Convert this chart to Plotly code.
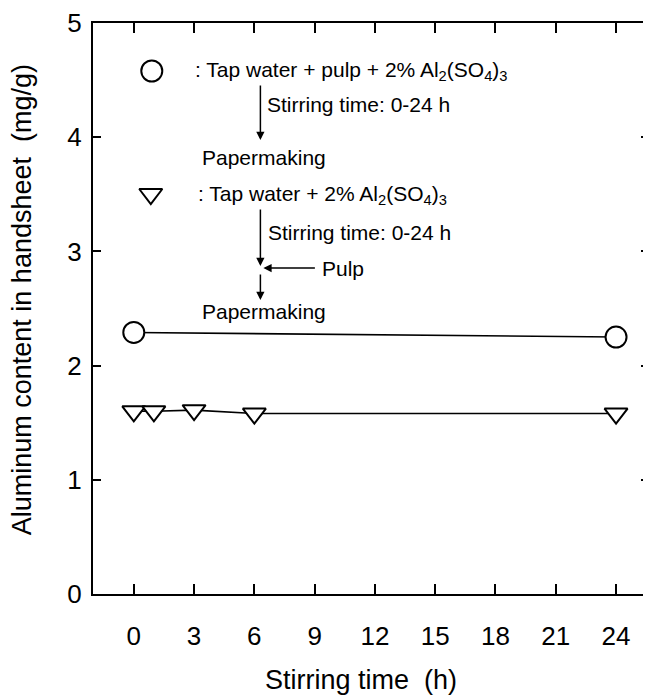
import plotly.graph_objects as go

# ---- data ----
circle_time = [0, 24]
circle_al = [2.29, 2.25]
tri_time = [0, 1, 3, 6, 24]
tri_al = [1.60, 1.60, 1.61, 1.58, 1.58]
x_ticks = [0, 3, 6, 9, 12, 15, 18, 21, 24]
y_ticks = [0, 1, 2, 3, 4, 5]

# page body has an 8px margin; positions below are in viewport pixels
OFF = 8
W, H = 651 - OFF, 699 - OFF
L, R, T, B = 93, 651, 23, 594
XR = [-2.03, 25.64]
YR = [0, 5]

def px(xp):
    return (xp - L) / (R - L)

def py(yp):
    return (B - yp) / (B - T)

def dx(xp):
    return XR[0] + (xp - L) / (R - L) * (XR[1] - XR[0])

def dy(yp):
    return YR[0] + (B - yp) / (B - T) * (YR[1] - YR[0])

FONT = "Liberation Sans, Arial, sans-serif"

fig = go.Figure()
mk = dict(color="white", line=dict(color="black", width=2))
fig.add_trace(go.Scatter(x=circle_time, y=circle_al, mode="lines+markers",
                         line=dict(color="black", width=1.6),
                         marker=dict(symbol="circle", size=21, **mk),
                         hoverinfo="skip", showlegend=False))
fig.add_trace(go.Scatter(x=tri_time, y=tri_al, mode="lines+markers",
                         line=dict(color="black", width=1.6),
                         marker=dict(symbol="triangle-down", size=20, **mk),
                         hoverinfo="skip", showlegend=False))
# key symbols
fig.add_trace(go.Scatter(x=[dx(152)], y=[dy(71)], mode="markers",
                         marker=dict(symbol="circle", size=21, **mk),
                         hoverinfo="skip", showlegend=False))
fig.add_trace(go.Scatter(x=[dx(151)], y=[dy(194)], mode="markers",
                         marker=dict(symbol="triangle-down", size=20, **mk),
                         hoverinfo="skip", showlegend=False))

ann = []
def text(xp, yp, s, size=21, **kw):
    ann.append(dict(xref="paper", yref="paper", x=px(xp), y=py(yp), text=s,
                    showarrow=False, xanchor="left", yanchor="middle",
                    font=dict(family=FONT, size=size, color="black"), **kw))

def arrow(x0, y0, x1, y1):
    ann.append(dict(xref="paper", yref="paper", x=px(x1), y=py(y1), text="",
                    showarrow=True, ax=x0 - x1, ay=y0 - y1, axref="pixel", ayref="pixel",
                    arrowhead=2, arrowsize=1.1, arrowwidth=1.5, arrowcolor="black",
                    standoff=0, startstandoff=0))

AL = "Al<sub>2</sub>(SO<sub>4</sub>)<sub>3</sub>"
text(193, 71, ": Tap water + pulp + 2% " + AL)
text(266, 105, "Stirring time: 0-24 h")
text(200, 157, "Papermaking")
text(196, 195, ": Tap water + 2% " + AL)
text(267, 232, "Stirring time: 0-24 h")
text(321, 268, "Pulp")
text(200, 311, "Papermaking")

arrow(261, 84, 261, 140)
arrow(261, 208, 261, 266)
arrow(317, 268, 264, 268)
arrow(261, 273, 261, 300)

# axis titles
ann.append(dict(xref="paper", yref="paper", x=px(362), y=py(680), text="Stirring time  (h)",
                showarrow=False, xanchor="center", yanchor="middle",
                font=dict(family=FONT, size=27, color="black")))
ann.append(dict(xref="paper", yref="paper", x=px(22), y=py(300),
                text="Aluminum content in handsheet  (mg/g)", textangle=-90,
                showarrow=False, xanchor="center", yanchor="middle",
                font=dict(family=FONT, size=27, color="black")))

axis_common = dict(showline=True, linecolor="black", linewidth=2, mirror="ticks",
                   ticks="inside", tickcolor="black", tickwidth=2,
                   showgrid=False, zeroline=False,
                   tickfont=dict(family=FONT, size=26, color="black"))

fig.update_layout(
    width=W, height=H,
    margin=dict(l=L - OFF, r=W - (R - OFF), t=T - OFF, b=H - (B - OFF), pad=0),
    paper_bgcolor="white", plot_bgcolor="white",
    xaxis=dict(range=XR, tickvals=x_ticks, ticktext=[str(v) for v in x_ticks],
               ticklen=10, ticklabelstandoff=18, **axis_common),
    yaxis=dict(range=YR, tickvals=y_ticks, ticktext=[str(v) for v in y_ticks],
               ticklen=8, ticklabelstandoff=4, **axis_common),
    annotations=ann,
    showlegend=False,
)

fig.write_html("out.html")
